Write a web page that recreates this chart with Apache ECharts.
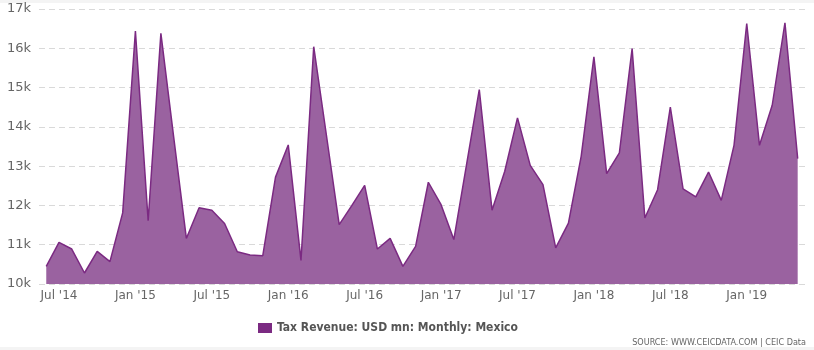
<!DOCTYPE html>
<html>
<head>
<meta charset="utf-8">
<script src="https://cdn.jsdelivr.net/npm/echarts@6/dist/echarts.min.js"></script>
<style>
html,body{margin:0;padding:0;background:#fff;}
#chart{width:814px;height:350px;}
</style>
</head>
<body>
<div id="chart"></div>
<script>
// Months (Jun 2014 – May 2019)
var months = [
  '2014-06','2014-07','2014-08','2014-09','2014-10','2014-11','2014-12',
  '2015-01','2015-02','2015-03','2015-04','2015-05','2015-06','2015-07','2015-08','2015-09','2015-10','2015-11','2015-12',
  '2016-01','2016-02','2016-03','2016-04','2016-05','2016-06','2016-07','2016-08','2016-09','2016-10','2016-11','2016-12',
  '2017-01','2017-02','2017-03','2017-04','2017-05','2017-06','2017-07','2017-08','2017-09','2017-10','2017-11','2017-12',
  '2018-01','2018-02','2018-03','2018-04','2018-05','2018-06','2018-07','2018-08','2018-09','2018-10','2018-11','2018-12',
  '2019-01','2019-02','2019-03','2019-04','2019-05'
];
// Tax Revenue: USD mn: Monthly: Mexico
var taxRevenue = [
  10450, 11060, 10890, 10280, 10830, 10570, 11810,
  16440, 11610, 16380, 13750, 11160, 11940, 11880, 11540, 10820, 10740, 10720, 12720,
  13540, 10600, 16040, 13780, 11510, 12000, 12510, 10890, 11160, 10450, 10960, 12590,
  12020, 11130, 13040, 14950, 11880, 12870, 14230, 13020, 12530, 10920, 11550, 13250,
  15780, 12810, 13340, 15990, 11680, 12400, 14500, 12420, 12220, 12850, 12130, 13530,
  16630, 13530, 14550, 16650, 13190
];
var tickMonths = ['2014-07','2015-01','2015-07','2016-01','2016-07','2017-01','2017-07','2018-01','2018-07','2019-01'];
var tickLabels = ["Jul '14","Jan '15","Jul '15","Jan '16","Jul '16","Jan '17","Jul '17","Jan '18","Jul '18","Jan '19"];
var yTickValues = [10000, 11000, 12000, 13000, 14000, 15000, 16000, 17000];
var yTickLabels = ['10k','11k','12k','13k','14k','15k','16k','17k'];
var seriesName = 'Tax Revenue: USD mn: Monthly: Mexico';

var seriesData = taxRevenue.map(function (v, i) { return [i, v]; });
var tickIdx = tickMonths.map(function (m) { return months.indexOf(m); });

var chart = echarts.init(document.getElementById('chart'), null, {renderer: 'canvas'});
var lineColor = '#7b2a82';
chart.setOption({
  animation: false,
  backgroundColor: '#ffffff',
  grid: {left: 39, right: 6, top: 9, bottom: 66, containLabel: false},
  xAxis: {
    type: 'value',
    min: -0.57,
    max: months.length - 1 + 0.81,
    axisLine: {show: false},
    axisTick: {show: false},
    splitLine: {show: false},
    axisLabel: {
      customValues: tickIdx,
      margin: 6,
      color: '#666666',
      fontFamily: 'DejaVu Sans',
      fontSize: 12,
      formatter: function (v) {
        var k = tickIdx.indexOf(Math.round(v));
        return k >= 0 ? tickLabels[k] : '';
      }
    }
  },
  yAxis: {
    type: 'value',
    min: 10000,
    max: 17000,
    interval: 1000,
    axisLine: {show: false},
    axisTick: {show: false},
    axisLabel: {
      margin: 8,
      color: '#666666',
      fontFamily: 'DejaVu Sans',
      fontSize: 13,
      formatter: function (v) {
        var k = yTickValues.indexOf(v);
        return k >= 0 ? yTickLabels[k] : '';
      }
    },
    splitLine: {show: true, lineStyle: {color: '#d9d9d9', type: [6, 4], width: 1}}
  },
  legend: {
    left: 253,
    top: 317,
    itemWidth: 14,
    itemHeight: 10,
    icon: 'rect',
    textStyle: {color: '#555555', fontWeight: 'bold', fontSize: 12, fontFamily: 'DejaVu Sans Condensed'},
    data: [{name: seriesName, itemStyle: {color: lineColor}}]
  },
  graphic: [
    {type: 'rect', left: 0, top: 0, shape: {width: 814, height: 3}, style: {fill: '#f4f4f4'}, silent: true},
    {type: 'rect', left: 0, top: 347, shape: {width: 814, height: 3}, style: {fill: '#f4f4f4'}, silent: true},
    {type: 'text', right: 8, top: 338, style: {text: 'SOURCE: WWW.CEICDATA.COM | CEIC Data', fill: '#666666', font: '9px "DejaVu Sans Condensed"'}}
  ],
  series: [{
    name: seriesName,
    type: 'line',
    data: seriesData,
    showSymbol: false,
    symbol: 'none',
    lineStyle: {color: lineColor, width: 1.5},
    itemStyle: {color: lineColor},
    areaStyle: {color: '#9a62a0', opacity: 1}
  }]
});
</script>
</body>
</html>
